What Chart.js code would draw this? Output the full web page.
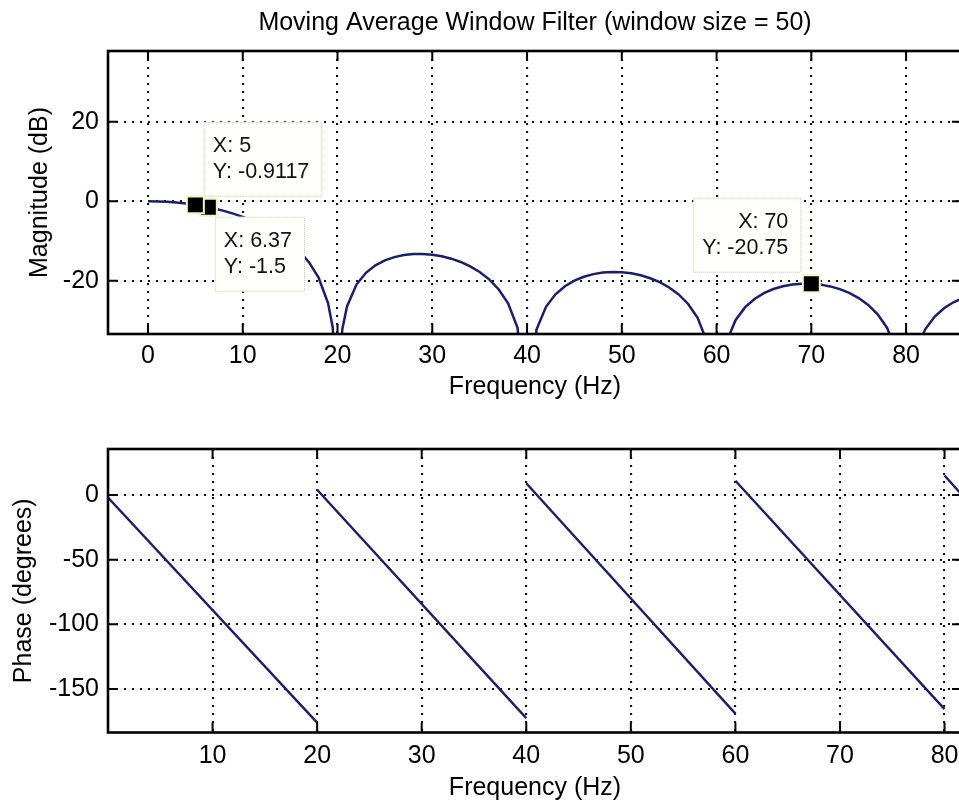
<!DOCTYPE html>
<html>
<head>
<meta charset="utf-8">
<title>Moving Average Window Filter</title>
<script src="https://cdn.jsdelivr.net/npm/chart.js@4.4.1/dist/chart.umd.min.js"></script>
<style>
  html, body { margin: 0; padding: 0; background: #fff; overflow: hidden; }
  #wrap { position: relative; width: 959px; height: 803px; overflow: hidden; }
  canvas { position: absolute; left: 0; }
  #magCanvas { top: 0; }
  #phaseCanvas { top: 400px; }
</style>
</head>
<body>
<div id="wrap">
  <canvas id="magCanvas" width="970" height="400"></canvas>
  <canvas id="phaseCanvas" width="970" height="403"></canvas>
</div>
<script>
const chartTitle = 'Moving Average Window Filter (window size = 50)';

// magnitude response in dB (nulls at multiples of 20 Hz fall off the bottom of the axes)
const magFreq = [0, 1, 2, 3, 4, 5, 6, 7, 8, 9, 10, 11, 12, 13, 14, 15, 16, 17, 18, 19, 19.5, 20, 20.5,
  21, 22, 23, 24, 25, 26, 27, 28, 29, 30, 31, 32, 33, 34, 35, 36, 37, 38, 39, 40,
  41, 42, 43, 44, 45, 46, 47, 48, 49, 50, 51, 52, 53, 54, 55, 56, 57, 58, 59, 60,
  61, 62, 63, 64, 65, 66, 67, 68, 69, 70, 71, 72, 73, 74, 75, 76, 77, 78, 79, 80,
  81, 82, 83, 84, 85, 86, 87];
const magDb = [0, -0.04, -0.14, -0.32, -0.58, -0.91, -1.33, -1.83, -2.42, -3.12, -3.92, -4.86, -5.94, -7.20, -8.68, -10.45, -12.62, -15.39, -19.22, -25.61, -31.8, -60, -32.26,
  -26.47, -20.96, -18.01, -16.13, -14.88, -14.05, -13.54, -13.29, -13.27, -13.45, -13.84, -14.45, -15.28, -16.38, -17.80, -19.65, -22.13, -25.70, -31.84, -60,
  -32.27, -26.56, -23.42, -21.38, -19.97, -18.99, -18.33, -17.95, -17.80, -17.87, -18.14, -18.64, -19.37, -20.37, -21.70, -23.46, -25.85, -29.34, -35.40, -60,
  -35.69, -29.92, -26.71, -24.60, -23.13, -22.09, -21.38, -20.94, -20.74, -20.75, -20.98, -21.43, -22.11, -23.07, -24.35, -26.07, -28.43, -31.88, -37.90, -60,
  -38.11, -32.30, -29.07, -26.92, -25.42, -24.35, -23.61];
const magTicksX = [0, 10, 20, 30, 40, 50, 60, 70, 80];
const magTicksY = [-20, 0, 20];

// data tips on the magnitude plot
const tipFreq = [6.37, 5, 70];
const tipDb = [-1.5, -0.9117, -20.75];

// phase response in degrees, null where it wraps
const phaseFreq = [0, 20, 20, 20, 40, 40, 40, 60, 60, 60, 80, 80, 80, 82];
const phaseDeg = [-2, -176, null, 4, -172.5, null, 9, -169, null, 11, -165.5, null, 15, -3];
const phaseTicksX = [10, 20, 30, 40, 50, 60, 70, 80];
const phaseTicksY = [-150, -100, -50, 0];

const lineColor = '#1a1f68';
const gridColor = '#111';
const fontFamily = '"Liberation Sans", Arial, sans-serif';
const tickFont = { family: fontFamily, size: 25, lineHeight: 1.2 };
const labelFont = { family: fontFamily, size: 25, lineHeight: 1 };
const tipFont = '21.5px ' + fontFamily;
const tickLen = 10;

// where each data tip box sits relative to its marker
const tipBoxStyle = [
  { align: 'left', dx: 6.5, dy: 9.5 },
  { align: 'left', dx: 8.5, dy: -83 },
  { align: 'right', dx: -10, dy: -86 }
];

// axes box with inward ticks on all four sides
const frameTicks = {
  id: 'frameTicks',
  afterDatasetsDraw(chart) {
    const { ctx, chartArea: a, scales: { x, y } } = chart;
    ctx.save();
    ctx.strokeStyle = '#000';
    ctx.lineWidth = 2;
    ctx.beginPath();
    x.ticks.forEach(t => {
      const px = x.getPixelForValue(t.value);
      ctx.moveTo(px, a.bottom); ctx.lineTo(px, a.bottom - tickLen);
      ctx.moveTo(px, a.top); ctx.lineTo(px, a.top + tickLen);
    });
    y.ticks.forEach(t => {
      const py = y.getPixelForValue(t.value);
      ctx.moveTo(a.left, py); ctx.lineTo(a.left + tickLen, py);
      ctx.moveTo(a.right, py); ctx.lineTo(a.right - tickLen, py);
    });
    ctx.stroke();
    ctx.lineWidth = 2.6;
    ctx.strokeRect(a.left, a.top, a.right - a.left, a.bottom - a.top);
    ctx.restore();
  }
};

const dataTips = {
  id: 'dataTips',
  afterDatasetsDraw(chart) {
    const { ctx, scales: { x, y } } = chart;
    ctx.save();
    ctx.font = tipFont;
    ctx.textBaseline = 'middle';
    tipFreq.forEach((f, i) => {
      const st = tipBoxStyle[i];
      const px = x.getPixelForValue(f);
      const py = y.getPixelForValue(tipDb[i]);
      const lines = ['X: ' + f, 'Y: ' + tipDb[i]];
      const w = Math.max(...lines.map(s => ctx.measureText(s).width)) + 22;
      const h = 75;
      const left = st.align === 'left' ? px + st.dx : px + st.dx - w;
      const top = py + st.dy;
      ctx.fillStyle = '#fffffc';
      ctx.fillRect(left, top, w, h);
      ctx.setLineDash([1, 1]);
      ctx.strokeStyle = '#c9cf98';
      ctx.lineWidth = 1;
      ctx.strokeRect(left + 0.5, top + 0.5, w - 1, h - 1);
      ctx.setLineDash([]);
      ctx.fillStyle = '#111';
      if (st.align === 'left') {
        ctx.textAlign = 'left';
        ctx.fillText(lines[0], left + 9, top + 24.5);
        ctx.fillText(lines[1], left + 9, top + 50.5);
      } else {
        ctx.textAlign = 'right';
        ctx.fillText(lines[0], left + w - 13, top + 24.5);
        ctx.fillText(lines[1], left + w - 13, top + 50.5);
      }
    });
    ctx.restore();
  }
};

const axesTitle = {
  id: 'axesTitle',
  afterDraw(chart) {
    const { ctx, chartArea: a } = chart;
    ctx.save();
    ctx.font = '25px ' + fontFamily;
    ctx.fillStyle = '#000';
    ctx.textAlign = 'center';
    ctx.textBaseline = 'middle';
    ctx.fillText(chartTitle, (a.left + a.right) / 2, 23);
    ctx.restore();
  }
};

function axis(opts) {
  return {
    type: 'linear',
    min: opts.min,
    max: opts.max,
    afterBuildTicks: s => { s.ticks = opts.ticks.map(v => ({ value: v })); },
    afterFit: s => {
      // fixed box size, no extra room for edge labels
      if (s.isHorizontal()) s.height = opts.size; else s.width = opts.size;
      s.paddingLeft = 0; s.paddingRight = 0; s.paddingTop = 0; s.paddingBottom = 0;
    },
    grid: { color: gridColor, lineWidth: 2.1, drawTicks: false },
    border: { display: false, dash: [2, 6] },
    ticks: {
      font: tickFont, color: '#000', padding: opts.pad,
      maxRotation: 0, autoSkip: false, callback: v => String(v)
    },
    title: { display: true, text: opts.title, font: labelFont, color: '#000', padding: opts.titlePad }
  };
}

// magnitude plot
new Chart(document.getElementById('magCanvas'), {
  type: 'scatter',
  data: {
    datasets: [
      {
        data: magFreq.map((f, i) => ({ x: f, y: magDb[i] })),
        showLine: true, borderColor: lineColor, borderWidth: 2.5,
        pointRadius: 0, order: 2, clip: 0
      },
      {
        data: tipFreq.map((f, i) => ({ x: f, y: tipDb[i] })),
        pointStyle: 'rect', pointRadius: 12,
        backgroundColor: '#000', borderColor: '#f3f3c6', borderWidth: 2, order: 1
      }
    ]
  },
  options: {
    responsive: false, animation: false, devicePixelRatio: 1,
    layout: { autoPadding: false, padding: { top: 51, right: 8, bottom: 0, left: 0 } },
    plugins: { legend: { display: false }, tooltip: { enabled: false } },
    scales: {
      x: axis({ min: -4.22, max: 85.9, ticks: magTicksX, size: 66, pad: 7,
        title: 'Frequency (Hz)', titlePad: { top: 0, bottom: 0 } }),
      y: axis({ min: -33.4, max: 37.8, ticks: magTicksY, size: 108, pad: 9,
        title: 'Magnitude (dB)', titlePad: { top: 27.5, bottom: 0 } })
    }
  },
  plugins: [frameTicks, dataTips, axesTitle]
});

// phase plot
new Chart(document.getElementById('phaseCanvas'), {
  type: 'scatter',
  data: {
    datasets: [{
      data: phaseFreq.map((f, i) => ({ x: f, y: phaseDeg[i] })),
      showLine: true, spanGaps: false, borderColor: lineColor, borderWidth: 2.4,
      pointRadius: 0, clip: 0
    }]
  },
  options: {
    responsive: false, animation: false, devicePixelRatio: 1,
    layout: { autoPadding: false, padding: { top: 49, right: 8, bottom: 0, left: 0 } },
    plugins: { legend: { display: false }, tooltip: { enabled: false } },
    scales: {
      x: axis({ min: 0, max: 81.67, ticks: phaseTicksX, size: 70.5, pad: 8.5,
        title: 'Frequency (Hz)', titlePad: { top: 0, bottom: 2 } }),
      y: axis({ min: -183.6, max: 35.5, ticks: phaseTicksY, size: 108, pad: 9,
        title: 'Phase (degrees)', titlePad: { top: 11.5, bottom: 0 } })
    }
  },
  plugins: [frameTicks]
});
</script>
</body>
</html>
